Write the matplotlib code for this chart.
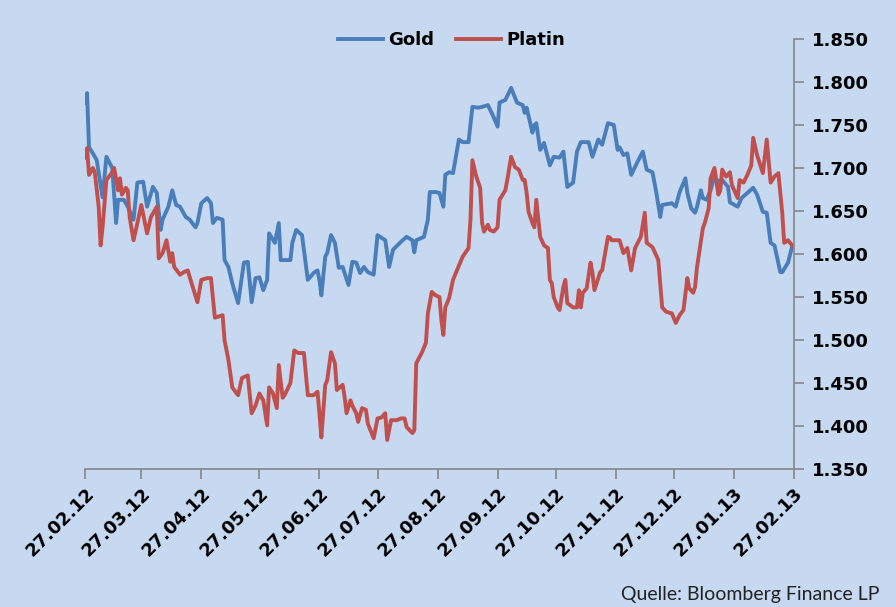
import matplotlib
matplotlib.use("Agg")
import matplotlib.pyplot as plt
import matplotlib.dates as mdates
import pandas as pd

# days since 27.02.2012
gold_days = [0,1,2,4,6,9,11,14,16,17,20,22,25,27,30,32,35,37,39,40,43,45,47,49,52,54,57,58,60,63,65,66,68,71,72,74,76,79,82,84,86,88,90,92,94,95,98,100,101,106,107,109,112,115,118,120,121,122,124,125,127,129,131,133,136,138,140,142,144,146,149,151,155,157,159,163,166,169,170,171,175,177,178,181,183,185,186,188,190,193,195,198,200,203,205,208,211,213,214,217,220,223,226,227,228,231,232,233,235,237,240,242,245,247,249,252,254,256,260,262,265,267,270,273,275,276,278,280,282,285,288,290,293,295,297,298,303,305,307,310,311,313,315,316,318,319,321,323,325,327,329,332,333,337,339,342,345,347,350,352,354,356,359,360,363,365,366]
gold_values = [1.776,1.787,1.724,1.717,1.709,1.666,1.713,1.700,1.636,1.663,1.663,1.655,1.640,1.683,1.684,1.655,1.678,1.671,1.628,1.640,1.655,1.674,1.657,1.655,1.643,1.640,1.631,1.636,1.659,1.665,1.659,1.636,1.642,1.640,1.593,1.585,1.566,1.543,1.590,1.591,1.544,1.572,1.573,1.558,1.570,1.624,1.613,1.636,1.593,1.593,1.613,1.628,1.622,1.570,1.578,1.581,1.570,1.552,1.597,1.601,1.622,1.613,1.584,1.585,1.564,1.591,1.590,1.578,1.585,1.579,1.576,1.622,1.616,1.585,1.605,1.614,1.620,1.616,1.602,1.616,1.620,1.640,1.672,1.672,1.671,1.655,1.692,1.695,1.694,1.733,1.730,1.730,1.771,1.770,1.771,1.773,1.759,1.748,1.776,1.779,1.793,1.776,1.773,1.764,1.770,1.741,1.750,1.752,1.721,1.729,1.703,1.713,1.712,1.719,1.678,1.683,1.719,1.730,1.730,1.713,1.733,1.727,1.752,1.750,1.721,1.724,1.715,1.717,1.692,1.706,1.719,1.698,1.695,1.671,1.643,1.657,1.659,1.655,1.672,1.688,1.671,1.653,1.648,1.655,1.674,1.665,1.663,1.674,1.690,1.684,1.686,1.678,1.660,1.655,1.665,1.671,1.677,1.669,1.649,1.648,1.613,1.610,1.579,1.579,1.590,1.608,1.607]

platin_days = [0,1,2,4,5,7,8,9,11,14,15,17,18,19,21,22,23,25,27,29,32,34,37,38,40,42,44,45,46,49,51,53,55,58,60,63,65,67,71,72,74,76,79,81,84,86,88,90,92,94,95,97,99,100,102,103,106,108,110,113,115,118,120,121,122,124,125,127,129,130,133,134,135,137,138,140,141,143,145,146,149,151,153,155,156,158,161,163,165,166,169,170,171,174,176,177,179,181,183,184,185,186,188,190,192,195,198,199,200,202,204,205,206,208,209,211,213,214,217,218,220,222,224,226,227,228,229,231,232,233,235,237,239,240,241,242,244,245,247,248,249,252,254,255,256,257,259,261,262,263,266,267,270,271,272,276,278,280,282,284,287,289,290,293,296,298,300,303,305,307,309,311,312,314,315,316,319,320,322,323,325,327,328,329,331,333,334,337,338,340,342,344,345,347,350,351,352,354,356,358,360,361,363,364,366]
platin_values = [1.712,1.723,1.692,1.700,1.695,1.655,1.610,1.631,1.686,1.695,1.700,1.674,1.688,1.669,1.677,1.674,1.643,1.616,1.636,1.657,1.624,1.643,1.655,1.595,1.601,1.616,1.591,1.601,1.585,1.576,1.579,1.581,1.566,1.544,1.570,1.572,1.572,1.526,1.529,1.500,1.477,1.445,1.436,1.456,1.459,1.415,1.424,1.438,1.430,1.401,1.445,1.438,1.421,1.471,1.433,1.436,1.450,1.488,1.485,1.485,1.436,1.436,1.440,1.415,1.387,1.448,1.453,1.486,1.473,1.442,1.448,1.434,1.415,1.430,1.424,1.415,1.405,1.421,1.419,1.403,1.386,1.409,1.410,1.415,1.384,1.407,1.407,1.409,1.409,1.399,1.392,1.395,1.473,1.486,1.497,1.531,1.556,1.552,1.550,1.523,1.506,1.538,1.549,1.570,1.581,1.597,1.607,1.640,1.709,1.690,1.677,1.636,1.626,1.634,1.628,1.626,1.631,1.663,1.674,1.686,1.713,1.701,1.698,1.686,1.686,1.671,1.649,1.636,1.631,1.663,1.620,1.610,1.607,1.570,1.566,1.550,1.538,1.535,1.562,1.570,1.543,1.538,1.538,1.558,1.538,1.555,1.560,1.590,1.578,1.558,1.579,1.581,1.620,1.619,1.616,1.616,1.601,1.607,1.581,1.607,1.620,1.648,1.613,1.608,1.593,1.538,1.533,1.531,1.520,1.529,1.535,1.572,1.560,1.555,1.562,1.585,1.630,1.636,1.653,1.688,1.700,1.669,1.674,1.698,1.690,1.695,1.680,1.665,1.686,1.683,1.692,1.703,1.735,1.715,1.694,1.713,1.733,1.683,1.690,1.694,1.648,1.613,1.616,1.613,1.608]

start = pd.Timestamp("2012-02-27")
end = pd.Timestamp("2013-02-27")
gold_dates = start + pd.to_timedelta(gold_days, unit="D")
platin_dates = start + pd.to_timedelta(platin_days, unit="D")

bg = "#c6d9f0"
axis_grey = "#868686"
plt.rcParams["font.family"] = "DejaVu Sans"

fig = plt.figure(figsize=(8.96, 6.07), dpi=100, facecolor=bg)
ax = fig.add_axes([0.095, 0.227, 0.791, 0.709])
ax.set_facecolor(bg)

ax.plot(gold_dates, gold_values, color="#4a7ebb", lw=2.8, label="Gold", solid_joinstyle="round")
ax.plot(platin_dates, platin_values, color="#c0504d", lw=2.8, label="Platin", solid_joinstyle="round")

ax.set_xlim(start, end)
ax.set_ylim(1.35, 1.85)

yt = [1.35 + 0.05 * i for i in range(11)]
ax.set_yticks(yt)
ax.set_yticklabels(["{:.3f}".format(v) for v in yt])
ax.yaxis.tick_right()

xt = pd.date_range("2012-02-01", "2013-02-01", freq="MS") + pd.Timedelta(days=26)
ax.set_xticks(xt)
ax.xaxis.set_major_formatter(mdates.DateFormatter("%d.%m.%y"))

for lbl in ax.get_xticklabels():
    lbl.set_rotation(45)
    lbl.set_ha("right")
    lbl.set_va("top")
    lbl.set_rotation_mode("anchor")

ax.tick_params(axis="both", colors=axis_grey, labelcolor="black", labelsize=13,
               length=7, width=1.2)
ax.tick_params(axis="y", pad=6)
ax.tick_params(axis="x", pad=4)
for lbl in ax.get_xticklabels() + ax.get_yticklabels():
    lbl.set_fontweight("bold")

ax.spines["left"].set_visible(False)
ax.spines["top"].set_visible(False)
ax.spines["right"].set_color(axis_grey)
ax.spines["bottom"].set_color(axis_grey)
ax.spines["right"].set_linewidth(1.2)
ax.spines["bottom"].set_linewidth(1.2)

fig.legend(loc="center", bbox_to_anchor=(0.504, 0.934), ncol=2, frameon=False,
           prop={"weight": "bold", "size": 13}, handlelength=2.5, columnspacing=1.2,
           handletextpad=0.3)

fig.text(0.982, 0.006, "Quelle: Bloomberg Finance LP", ha="right", va="bottom",
         fontsize=14, family="Lato", color="#222222")

fig.savefig("out.png", dpi=100, facecolor=bg)
